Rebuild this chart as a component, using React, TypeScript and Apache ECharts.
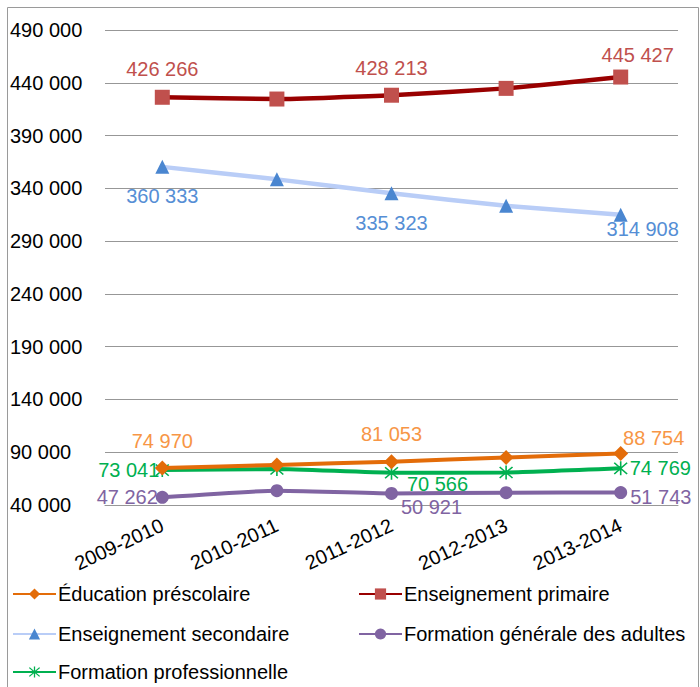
import React, { useEffect, useRef } from "react";
import * as echarts from "echarts";

const categories = ["2009-2010", "2010-2011", "2011-2012", "2012-2013", "2013-2014"];
const prescolaire = [74970, 78000, 81053, 85000, 88754];
const primaire = [426266, 424600, 428213, 434700, 445427];
const secondaire = [360333, 348500, 335323, 323500, 314908];
const adultes = [47262, 53600, 50921, 51700, 51743];
const professionnelle = [73041, 74100, 70566, 70800, 74769];
const seriesNames = [
  "Éducation préscolaire",
  "Enseignement primaire",
  "Enseignement secondaire",
  "Formation générale des adultes",
  "Formation professionnelle",
];

const FONT = "'Liberation Sans', Arial, sans-serif";
const fmt = (v: number) => String(Math.round(v)).replace(/\B(?=(\d{3})+(?!\d))/g, " ");

const asterisk =
  "path://M9 0 L11 0 L11 20 L9 20 Z M1.3 2.7 L2.7 1.3 L18.7 17.3 L17.3 18.7 Z M17.3 1.3 L18.7 2.7 L2.7 18.7 L1.3 17.3 Z";

type LabelSpec = { position: string; distance: number; offset: [number, number] } | null;

function withLabels(values: number[], color: string, specs: LabelSpec[]) {
  return values.map((v, i) => {
    const s = specs[i];
    if (!s) return { value: v };
    return {
      value: v,
      label: {
        show: true,
        position: s.position,
        distance: s.distance,
        offset: s.offset,
        color,
        fontSize: 20,
        fontFamily: FONT,
        formatter: (p: any) => fmt(p.value),
      },
    };
  });
}

export default function App() {
  const ref = useRef<HTMLDivElement>(null);
  useEffect(() => {
    if (!ref.current) return;
    const chart = echarts.init(ref.current, null, { renderer: "svg" });
    const grid = "#979797";
    const legendBase = {
      itemWidth: 43,
      itemHeight: 14,
      itemGap: 0,
      padding: 0,
      selectedMode: false,
      textStyle: { fontSize: 20, fontFamily: FONT, color: "#000", padding: [0, 0, 0, -3] },
    };
    const option: any = {
      animation: false,
      backgroundColor: "#fff",
      grid: { left: 105, right: 22, top: 30, bottom: 182 },
      graphic: [
        {
          type: "rect",
          shape: { x: 7.5, y: 7.5, width: 691, height: 700 },
          style: { fill: "none", stroke: "#9a9a9a", lineWidth: 1 },
          silent: true,
        },
      ],
      legend: [
        { ...legendBase, data: [seriesNames[0]], left: 12, top: 584 },
        { ...legendBase, data: [seriesNames[1]], left: 358, top: 584 },
        { ...legendBase, data: [seriesNames[2]], left: 12, top: 624 },
        { ...legendBase, data: [seriesNames[3]], left: 358, top: 624 },
        { ...legendBase, data: [seriesNames[4]], left: 12, top: 662 },
      ],
      xAxis: {
        type: "category",
        data: categories,
        boundaryGap: true,
        axisLine: { show: true, lineStyle: { color: grid, width: 1 } },
        axisTick: { show: false },
        axisLabel: {
          rotate: 25,
          margin: 19,
          fontSize: 20,
          fontFamily: FONT,
          color: "#000",
          interval: 0,
        },
      },
      yAxis: {
        type: "value",
        min: 40000,
        max: 490000,
        interval: 10000,
        axisLine: { show: false },
        axisTick: { show: false },
        axisLabel: {
          align: "left",
          margin: 95,
          fontSize: 20,
          fontFamily: FONT,
          color: "#000",
          formatter: (v: number) => ((v - 40000) % 50000 === 0 ? fmt(v) : ""),
        },
        splitLine: {
          show: true,
          lineStyle: {
            color: [grid, "rgba(0,0,0,0)", "rgba(0,0,0,0)", "rgba(0,0,0,0)", "rgba(0,0,0,0)"],
            width: 1,
          },
        },
      },
      series: [
        {
          name: seriesNames[0],
          type: "line",
          smooth: 0.15,
          data: withLabels(prescolaire, "#F79646", [
            { position: "top", distance: 10, offset: [0, 0] },
            null,
            { position: "top", distance: 10, offset: [0, 0] },
            null,
            { position: "top", distance: -2, offset: [33, 0] },
          ]),
          symbol: "diamond",
          symbolSize: 15,
          lineStyle: { color: "#E36C09", width: 4 },
          itemStyle: { color: "#E36C09" },
          z: 3,
        },
        {
          name: seriesNames[1],
          type: "line",
          smooth: 0.15,
          data: withLabels(primaire, "#C0504D", [
            { position: "top", distance: 11, offset: [0, 0] },
            null,
            { position: "top", distance: 10, offset: [0, 0] },
            null,
            { position: "top", distance: 5, offset: [17, 0] },
          ]),
          symbol: "rect",
          symbolSize: 15,
          lineStyle: { color: "#990000", width: 4.5 },
          itemStyle: { color: "#C0504D" },
        },
        {
          name: seriesNames[2],
          type: "line",
          smooth: 0.15,
          data: withLabels(secondaire, "#558ED5", [
            { position: "bottom", distance: 12, offset: [0, 0] },
            null,
            { position: "bottom", distance: 13, offset: [0, 0] },
            null,
            { position: "bottom", distance: -3, offset: [22, 0] },
          ]),
          symbol: "triangle",
          symbolSize: 14,
          lineStyle: { color: "#B9CDF7", width: 4.5 },
          itemStyle: { color: "#4A86D0" },
        },
        {
          name: seriesNames[3],
          type: "line",
          smooth: 0.15,
          data: withLabels(adultes, "#8064A2", [
            { position: "left", distance: -2, offset: [0, 0] },
            null,
            { position: "bottom", distance: -3, offset: [40, 0] },
            null,
            { position: "right", distance: 3, offset: [0, 4] },
          ]),
          symbol: "circle",
          symbolSize: 13,
          lineStyle: { color: "#8064A2", width: 4 },
          itemStyle: { color: "#8064A2" },
        },
        {
          name: seriesNames[4],
          type: "line",
          smooth: 0.15,
          data: withLabels(professionnelle, "#00B050", [
            { position: "left", distance: -4, offset: [0, 0] },
            null,
            { position: "bottom", distance: -6, offset: [46, 0] },
            null,
            { position: "right", distance: 2, offset: [0, 0] },
          ]),
          symbol: asterisk,
          symbolSize: 14,
          lineStyle: { color: "#00B050", width: 4 },
          itemStyle: { color: "#00B050" },
          z: 2,
        },
      ],
    };
    chart.setOption(option);
    return () => chart.dispose();
  }, []);
  return (
    <div
      ref={ref}
      style={{ position: "fixed", left: 0, top: 0, width: 700, height: 687, background: "#fff" }}
    />
  );
}
